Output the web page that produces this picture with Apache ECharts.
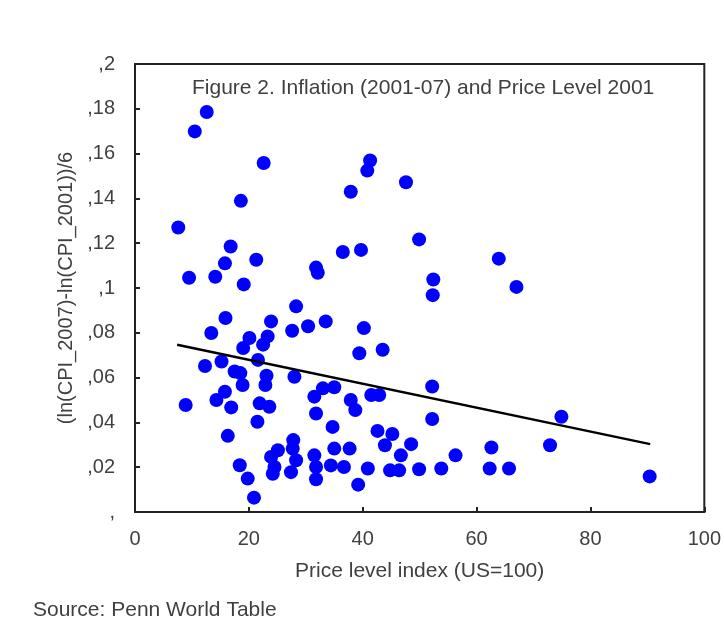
<!DOCTYPE html>
<html>
<head>
	<title>Figure 2</title>
	<meta charset="utf-8">
	<script src="https://cdn.jsdelivr.net/npm/echarts@6/dist/echarts.min.js"></script>
	<style>
		html, body { margin: 0; padding: 0; background: #fff; }
	</style>
</head>
<body>
	<div id="chart" style="width: 724px;height: 621px;"></div>
</body>

<script>
	// price level index (US=100), one per country
	var priceLevel = [
		12.6, 10.5, 22.6, 18.6, 7.6, 16.8, 21.3, 15.8, 9.5, 14.1,
		19.1, 15.9, 23.9, 13.4, 20.1, 23.3, 19.0, 22.5, 12.3, 15.2,
		17.5, 18.5, 18.9, 21.6, 23.1, 22.9, 15.8, 14.3, 16.9, 8.9,
		21.9, 23.6, 21.5, 16.3, 18.4, 19.8, 20.9, 28.3, 27.6, 30.4,
		33.5, 40.2, 39.4, 43.5, 28.0, 31.5, 33.0, 35.0, 31.8, 37.9,
		38.7, 41.5, 42.9, 34.7, 42.6, 43.9, 27.8, 27.7, 25.1, 23.9,
		24.5, 24.2, 27.4, 28.3, 31.5, 31.8, 31.8, 34.4, 35.0, 37.7,
		36.7, 40.9, 39.2, 45.2, 48.5, 46.7, 44.8, 46.4, 49.9, 52.2,
		52.2, 41.3, 40.8, 37.9, 47.6, 36.5, 39.7, 31.8, 32.1, 49.9,
		52.4, 52.3, 63.9, 67.0, 74.9, 72.9, 62.6, 56.3, 53.8, 62.3,
		65.7, 90.4
	];
	// (ln(CPI_2007)-ln(CPI_2001))/6
	var inflation = [
		0.1786, 0.1699, 0.1558, 0.1389, 0.127, 0.1185, 0.1126, 0.111, 0.1046, 0.105,
		0.1016, 0.0866, 0.0851, 0.0799, 0.0777, 0.0784, 0.0732, 0.0747, 0.0652, 0.0672,
		0.0627, 0.0620, 0.0567, 0.0679, 0.0608, 0.0567, 0.0537, 0.0500, 0.0467, 0.0478,
		0.0485, 0.0470, 0.0403, 0.0340, 0.0209, 0.0149, 0.0064, 0.0918, 0.0809, 0.0829,
		0.0851, 0.0821, 0.0709, 0.0724, 0.0604, 0.0515, 0.0552, 0.0557, 0.0440, 0.0500,
		0.0455, 0.0522, 0.0522, 0.0380, 0.0362, 0.0298, 0.0321, 0.0283, 0.0276, 0.0246,
		0.0201, 0.0171, 0.0178, 0.0231, 0.0253, 0.0201, 0.0146, 0.0208, 0.0283, 0.0283,
		0.0201, 0.0194, 0.0122, 0.0348, 0.0303, 0.0253, 0.0186, 0.0186, 0.0191, 0.0560,
		0.0415, 0.1569, 0.1524, 0.1430, 0.1472, 0.1161, 0.1170, 0.1091, 0.1068, 0.1217,
		0.1038, 0.0968, 0.1131, 0.1005, 0.0425, 0.0298, 0.0288, 0.0253, 0.0194, 0.0194,
		0.0194, 0.0159
	];
	// fitted line, its two ends
	var fitX = [7.4, 90.5];
	var fitY = [0.0747, 0.0303];

	var yTickLabels = [',', ',02', ',04', ',06', ',08', ',1', ',12', ',14', ',16', ',18', ',2'];
	var xTickLabels = ['0', '20', '40', '60', '80', '100'];

	var txtColor = '#404040';
	var fontName = '"Liberation Sans", Arial, sans-serif';

	var points = priceLevel.map(function (x, i) { return [x, inflation[i]]; });
	var fit = fitX.map(function (x, i) { return [x, fitY[i]]; });

	var option = {
		backgroundColor: '#fff',
		animation: false,
		textStyle: { fontFamily: fontName },
		grid: {
			left: 135, top: 64, right: 18, bottom: 109,
			show: true, borderColor: '#222', borderWidth: 2
		},
		xAxis: {
			type: 'value', min: 0, max: 100, interval: 20,
			name: 'Price level index (US=100)',
			nameLocation: 'middle', nameGap: 49,
			nameTextStyle: { color: txtColor, fontSize: 21, fontFamily: fontName },
			axisLine: { lineStyle: { color: '#222', width: 2 } },
			axisTick: { inside: true, length: 5, lineStyle: { color: '#222', width: 2 } },
			splitLine: { show: false },
			axisLabel: {
				color: txtColor, fontSize: 20, margin: 17, fontFamily: fontName,
				formatter: function (v) { return xTickLabels[Math.round(v / 20)]; }
			}
		},
		yAxis: {
			type: 'value', min: 0, max: 0.2, interval: 0.02,
			name: '(ln(CPI_2007)-ln(CPI_2001))/6',
			nameLocation: 'middle', nameGap: 51, nameRotate: 90,
			nameTextStyle: { color: txtColor, fontSize: 20, fontFamily: fontName },
			axisLine: { lineStyle: { color: '#222', width: 2 } },
			axisTick: { inside: true, length: 5, lineStyle: { color: '#222', width: 2 } },
			splitLine: { show: false },
			axisLabel: {
				color: txtColor, fontSize: 20, margin: 20, fontFamily: fontName,
				formatter: function (v) { return yTickLabels[Math.round(v / 0.02)]; }
			}
		},
		graphic: [
			{
				type: 'text', left: 192, top: 78,
				style: {
					text: 'Figure 2. Inflation (2001-07) and Price Level 2001',
					fill: txtColor, font: '21px ' + fontName
				}
			},
			{
				type: 'text', left: 33, top: 600,
				style: {
					text: 'Source: Penn World Table',
					fill: txtColor, font: '21px ' + fontName
				}
			}
		],
		series: [
			{
				type: 'scatter',
				data: points,
				symbolSize: 14,
				itemStyle: { color: '#0000ff', opacity: 1 },
				z: 2
			},
			{
				type: 'line',
				data: fit,
				symbol: 'none',
				lineStyle: { color: '#000', width: 2.5 },
				z: 3
			}
		]
	};

	var chart = echarts.init(document.getElementById('chart'));
	chart.setOption(option);
</script>
</html>
